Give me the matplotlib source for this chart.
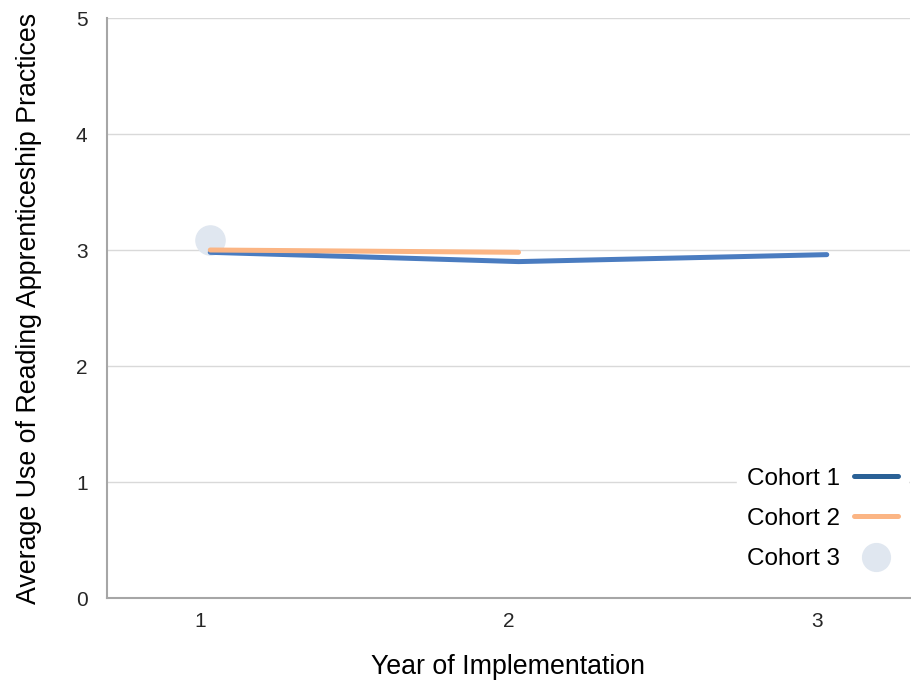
import matplotlib
matplotlib.use("Agg")
import matplotlib.pyplot as plt
import matplotlib.transforms as mtransforms
from matplotlib.lines import Line2D

plt.rcParams['font.family'] = ['Liberation Sans', 'DejaVu Sans']

years = [1, 2, 3]
cohort1 = [2.98, 2.90, 2.96]
cohort2 = [3.00, 2.98]
cohort3 = [3.09]
year_labels = ["1", "2", "3"]
series_names = ["Cohort 1", "Cohort 2", "Cohort 3"]

fig = plt.figure(figsize=(9.12, 6.87), dpi=100)
ax = fig.add_axes([107 / 912, 1 - 598 / 687, (910 - 107) / 912, (598 - 18) / 687])

ax.plot(years, cohort1, color="#4a7cc0", lw=3.6, solid_capstyle="round",
        solid_joinstyle="round", zorder=3)
ax.plot(years[:2], cohort2, color="#fbb584", lw=3.6, solid_capstyle="round", zorder=4)
ax.plot(years[:1], cohort3, linestyle="none", marker="o", markersize=21,
        color="#e0e7f0", zorder=2)

ax.set_xlim(0.665, 3.27)
ax.set_ylim(0, 5)
ax.set_yticks([0, 1, 2, 3, 4, 5])
ax.set_xticks(years)
ax.set_xticklabels(year_labels)
ax.grid(axis="y", color="#d9d9d9", lw=1)
ax.set_axisbelow(True)

for s in ("top", "right"):
    ax.spines[s].set_visible(False)
for s in ("left", "bottom"):
    ax.spines[s].set_color("#a6a6a6")
    ax.spines[s].set_linewidth(1.5)

ax.tick_params(length=0, labelsize=15, colors="#262626")
ax.tick_params(axis="y", pad=14)
ax.tick_params(axis="x", pad=10)
shift = mtransforms.ScaledTranslation(-10 / 100, 0, fig.dpi_scale_trans)
for lbl in ax.get_xticklabels():
    lbl.set_transform(lbl.get_transform() + shift)

ax.set_ylabel("Average Use of Reading Apprenticeship Practices", fontsize=19.3, labelpad=24)
ax.set_xlabel("Year of Implementation", fontsize=19.3, labelpad=17)

handles = [
    Line2D([], [], color="#2a6196", lw=3.6, solid_capstyle="round"),
    Line2D([], [], color="#fbb584", lw=3.6, solid_capstyle="round"),
    Line2D([], [], linestyle="none", marker="o", markersize=20, color="#e0e7f0"),
]
leg = ax.legend(handles, series_names, loc="lower right",
                bbox_to_anchor=(1.0, 0.027), frameon=True, fancybox=False,
                edgecolor="white", facecolor="white", framealpha=1,
                markerfirst=False, fontsize=17.5, handlelength=1.8,
                labelspacing=0.75, borderpad=0.4, borderaxespad=0.1,
                handletextpad=0.6)

fig.savefig("out.png", dpi=100, facecolor="white")
